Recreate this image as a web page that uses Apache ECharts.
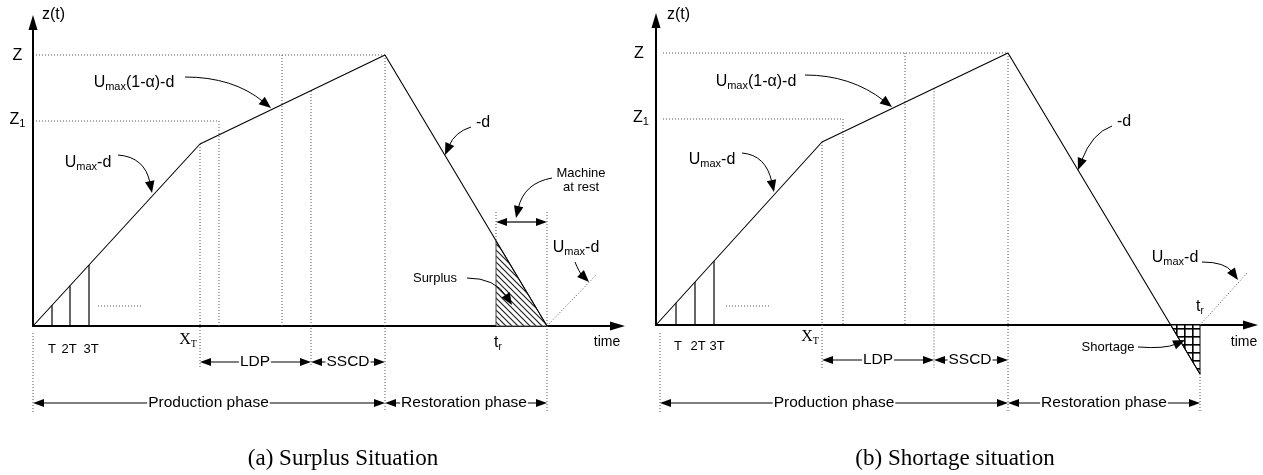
<!DOCTYPE html>
<html><head><meta charset="utf-8">
<script src="https://cdn.jsdelivr.net/npm/echarts@6/dist/echarts.min.js"></script>
<style>html,body{margin:0;padding:0;background:#fff}#c{width:1263px;height:475px}</style>
</head><body><div id="c"></div>
<script>
// ---------- Panel (a): Surplus situation ----------
const curveA = [[0,0],[16.7,18.2],[35.2,27.1],[51.4,0]];
const guidesA = [
  [0.3,27.1,35.2,27.1],[0.3,20.5,18.6,20.5],
  [16.7,18.2,16.7,-4.1],[18.6,20.5,18.6,0],[24.9,27.1,24.9,0],[27.8,23.5,27.8,-4.1],
  [35.2,27.1,35.2,-8.6],[0,-0.7,0,-8.6],[51.4,11.4,51.4,-8.6],[46.3,11.4,46.3,8.5],
  [6.5,2.0,10.9,2.0],[51.4,0,56.4,5.2]
];
const ticksA = [[1.9,0,1.9,2.07],[3.7,0,3.7,4.03],[5.6,0,5.6,6.1]];
const surplusA = [[46.3,8.5,46.3,0,51.4,0]];
const spansA = [[16.7,27.8,-3.6],[27.8,35.2,-3.6],[0,35.2,-7.7],[35.2,51.4,-7.7],[46.3,51.4,10.4]];
const spanLabelsA = [['LDP',22.2,-3.6],['SSCD',31.5,-3.6],['Production phase',17.55,-7.7],['Restoration phase',43.1,-7.7]];
const pointersA = [
  [15.2,24.9,20.0,24.9,23.8,21.8],
  [8.5,17.1,11.2,16.9,11.9,13.3],
  [43.8,19.9,42.2,19.4,41.2,17.1],
  [51.9,14.8,49.1,14.3,48.3,10.8],
  [43.4,4.8,46.2,4.8,47.9,2.1],
  [54.2,6.4,54.6,5.4,55.6,4.4]
];
const bigLabelsA = [
  ['Z',-1.55,27.0],['{a|Z}{s|1}',-1.55,20.6],
  ['{a|U}{s|max}{a|(1-α)-d}',10.1,24.3],['{a|U}{s|max}{a|-d}',5.5,16.3],
  ['{a|U}{s|max}{a|-d}',54.3,7.8],['-d',45.0,20.3],['z(t)',2.05,31.1]
];
const midLabelsA = [['{a|t}{s|r}',46.5,-1.7],['time',57.4,-1.6]];
const serifLabelsA = [['{a|X}{s|T}',15.5,-1.4]];
const smallLabelsA = [['T',1.9,-2.3],['2T',3.6,-2.3],['3T',5.8,-2.3],['Surplus',40.2,4.8],['Machine\nat rest',54.8,14.6]];

// ---------- Panel (b): Shortage situation ----------
const curveB = [[0,0],[16.6,18.3],[35.2,27.2],[54.4,-4.9]];
const guidesB = [
  [0.7,27.2,35.2,27.2],[0.7,20.6,18.7,20.6],
  [16.6,18.3,16.6,-4.3],[18.7,20.6,18.7,0],[24.9,27.2,24.9,0],[27.8,23.66,27.8,-4.3],
  [35.2,27.2,35.2,-8.7],[0.4,-0.8,0.4,-8.7],[54.4,-4.9,54.4,-8.7],
  [7.0,1.9,11.3,1.9],[54.4,0,59.2,5.3]
];
const ticksB = [[2.0,0,2.0,2.2],[3.9,0,3.9,4.3],[5.8,0,5.8,6.4]];
const shortageB = [[51.47,0,54.4,0,54.4,-4.9]];
const spansB = [[16.6,27.8,-3.5],[27.8,35.2,-3.5],[0.4,35.2,-7.8],[35.2,54.4,-7.8]];
const spanLabelsB = [['LDP',22.2,-3.5],['SSCD',31.4,-3.5],['Production phase',17.8,-7.8],['Restoration phase',44.8,-7.8]];
const pointersB = [
  [14.9,25.0,19.5,25.0,23.6,21.8],
  [8.6,17.2,11.0,17.0,11.8,13.3],
  [45.6,19.9,43.6,19.2,42.2,15.5],
  [48.2,-2.2,50.9,-2.4,52.9,-1.5],
  [54.6,6.3,56.9,6.3,58.2,4.5]
];
const bigLabelsB = [
  ['Z',-1.7,27.1],['{a|Z}{s|1}',-1.5,20.7],
  ['{a|U}{s|max}{a|(1-α)-d}',10.0,24.3],['{a|U}{s|max}{a|-d}',5.6,16.5],
  ['{a|U}{s|max}{a|-d}',51.9,6.7],['-d',46.8,20.3],['z(t)',2.25,31.05]
];
const midLabelsB = [['{a|t}{s|r}',54.4,1.8],['time',58.8,-1.7]];
const serifLabelsB = [['{a|X}{s|T}',15.4,-1.2]];
const smallLabelsB = [['T',2.2,-2.1],['2T',4.2,-2.1],['3T',6.1,-2.1],['Shortage',45.2,-2.2]];

const captions = ['(a) Surplus Situation','(b) Shortage situation'];

// ---------- rendering ----------
const F = "'Liberation Sans', Arial, sans-serif";
const FS = "'Liberation Serif', 'Times New Roman', serif";

function makeHatch(){
  const s=6,c=document.createElement('canvas');c.width=s;c.height=s;
  const g=c.getContext('2d');g.fillStyle='#fff';g.fillRect(0,0,s,s);
  g.strokeStyle='#222';g.lineWidth=1.2;g.beginPath();
  g.moveTo(-1,-1);g.lineTo(s+1,s+1);g.moveTo(-1,s-1);g.lineTo(1,s+1);g.moveTo(s-1,-1);g.lineTo(s+1,1);
  g.stroke();return c;
}
function makeGrid(){
  const s=8,c=document.createElement('canvas');c.width=s;c.height=s;
  const g=c.getContext('2d');g.fillStyle='#fff';g.fillRect(0,0,s,s);
  g.fillStyle='#000';g.fillRect(0,0,s,1.6);g.fillRect(0,0,1.6,s);return c;
}
const hatchImg = makeHatch(), gridImg = makeGrid();

function base(gi){return {type:'custom',xAxisIndex:gi,yAxisIndex:gi,clip:false,silent:true};}
function segSeries(data,gi,style){
  return Object.assign(base(gi),{data,renderItem:(p,api)=>{
    const a=api.coord([api.value(0),api.value(1)]),b=api.coord([api.value(2),api.value(3)]);
    return {type:'line',shape:{x1:a[0],y1:a[1],x2:b[0],y2:b[1]},style:Object.assign({fill:null},style)};
  }});
}
function polySeries(data,gi,img,stroke){
  return Object.assign(base(gi),{data,renderItem:(p,api)=>{
    const pts=[0,2,4].map(i=>api.coord([api.value(i),api.value(i+1)]));
    return {type:'polygon',shape:{points:pts},style:{fill:{image:img,repeat:'repeat'},stroke:stroke,lineWidth:1}};
  }});
}
function spanSeries(data,gi){
  return Object.assign(base(gi),{data,encode:{x:[0,1],y:2},renderItem:(p,api)=>{
    const a=api.coord([api.value(0),api.value(2)]),b=api.coord([api.value(1),api.value(2)]);
    const L=11,W=4;
    return {type:'group',children:[
      {type:'line',shape:{x1:a[0]+L-1,y1:a[1],x2:b[0]-L+1,y2:b[1]},style:{stroke:'#000',lineWidth:1.2}},
      {type:'polygon',shape:{points:[[a[0],a[1]],[a[0]+L,a[1]-W],[a[0]+L,a[1]+W]]},style:{fill:'#000'}},
      {type:'polygon',shape:{points:[[b[0],b[1]],[b[0]-L,b[1]-W],[b[0]-L,b[1]+W]]},style:{fill:'#000'}}
    ]};
  }});
}
function pointerSeries(data,gi){
  return Object.assign(base(gi),{data,renderItem:(p,api)=>{
    const t=api.coord([api.value(0),api.value(1)]),c=api.coord([api.value(2),api.value(3)]),e=api.coord([api.value(4),api.value(5)]);
    const dx=e[0]-c[0],dy=e[1]-c[1],Ln=Math.hypot(dx,dy),ux=dx/Ln,uy=dy/Ln,len=12,w=4.8;
    const b=[e[0]-ux*len,e[1]-uy*len];
    return {type:'group',children:[
      {type:'bezierCurve',shape:{x1:t[0],y1:t[1],x2:b[0]+ux*2,y2:b[1]+uy*2,cpx1:c[0],cpy1:c[1]},style:{stroke:'#000',lineWidth:1,fill:null}},
      {type:'polygon',shape:{points:[e,[b[0]-uy*w,b[1]+ux*w],[b[0]+uy*w,b[1]-ux*w]]},style:{fill:'#000'}}
    ]};
  }});
}
function textSeries(arr,gi,st){
  return Object.assign(base(gi),{data:arr.map(d=>[d[1],d[2]]),renderItem:(p,api)=>{
    const q=api.coord([api.value(0),api.value(1)]);
    return {type:'text',x:q[0],y:q[1],style:Object.assign({text:arr[p.dataIndex][0],align:'center',verticalAlign:'middle',fill:'#000'},st)};
  }});
}
const bigSt={fontSize:16,fontFamily:F,rich:{a:{fontSize:16,fontFamily:F,lineHeight:18},s:{fontSize:11,fontFamily:F,lineHeight:11,verticalAlign:'bottom'}}};
const midSt={fontSize:14,fontFamily:F,rich:{a:{fontSize:16,fontFamily:F,lineHeight:18},s:{fontSize:10,fontFamily:F,lineHeight:10,verticalAlign:'bottom'}}};
const serifSt={fontSize:16,fontFamily:FS,rich:{a:{fontSize:16,fontFamily:FS,lineHeight:18},s:{fontSize:10,fontFamily:FS,lineHeight:10,verticalAlign:'bottom'}}};
const smallSt={fontSize:13,fontFamily:F,lineHeight:14};
const spanSt={fontSize:15.5,fontFamily:F,backgroundColor:'#fff',padding:[0,1]};
const dotSt={stroke:'#555',lineWidth:1,lineDash:[1,2]};
const tickSt={stroke:'#000',lineWidth:1.2};

function axisPair(gi,xmax,ymax){
  const al={show:true,onZero:true,symbol:['none','triangle'],symbolSize:[9,15],lineStyle:{color:'#000',width:2}};
  return {
    x:{type:'value',gridIndex:gi,min:0,max:xmax,axisLine:al,axisTick:{show:false},axisLabel:{show:false},splitLine:{show:false}},
    y:{type:'value',gridIndex:gi,min:0,max:ymax,axisLine:al,axisTick:{show:false},axisLabel:{show:false},splitLine:{show:false}}
  };
}
const axA=axisPair(0,58.45,30.35), axB=axisPair(1,59.45,30.45);

function panel(gi,curve,guides,ticks,fill,img,stroke,spans,spanLabels,pointers,big,mid,serif,small){
  return [
    polySeries(fill,gi,img,stroke),
    segSeries(guides,gi,dotSt),
    segSeries(ticks,gi,tickSt),
    {type:'line',xAxisIndex:gi,yAxisIndex:gi,data:curve,symbol:'none',clip:false,silent:true,lineStyle:{color:'#000',width:1.1}},
    spanSeries(spans,gi),
    pointerSeries(pointers,gi),
    textSeries(spanLabels,gi,spanSt),
    textSeries(big,gi,bigSt),
    textSeries(mid,gi,midSt),
    textSeries(serif,gi,serifSt),
    textSeries(small,gi,smallSt)
  ];
}

const chart=echarts.init(document.getElementById('c'),null,{renderer:'canvas'});
chart.setOption({
  animation:false,
  backgroundColor:'#fff',
  grid:[{left:33,top:22.5,width:584.5,height:303.5},{left:656,top:20.5,width:594.5,height:304.5}],
  xAxis:[axA.x,axB.x],
  yAxis:[axA.y,axB.y],
  graphic:[
    {type:'text',x:343,y:459,style:{text:captions[0],font:"23px "+FS,align:'center',verticalAlign:'middle',fill:'#000'}},
    {type:'text',x:955,y:459,style:{text:captions[1],font:"23px "+FS,align:'center',verticalAlign:'middle',fill:'#000'}}
  ],
  series:[].concat(
    panel(0,curveA,guidesA,ticksA,surplusA,hatchImg,'#444',spansA,spanLabelsA,pointersA,bigLabelsA,midLabelsA,serifLabelsA,smallLabelsA),
    panel(1,curveB,guidesB,ticksB,shortageB,gridImg,'#000',spansB,spanLabelsB,pointersB,bigLabelsB,midLabelsB,serifLabelsB,smallLabelsB)
  )
});
</script></body></html>
